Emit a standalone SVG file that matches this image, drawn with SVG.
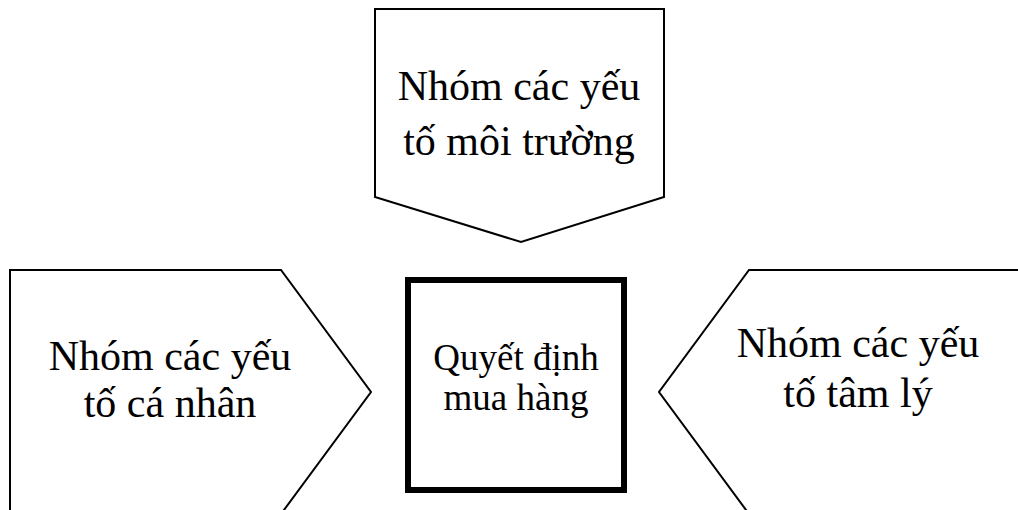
<svg xmlns="http://www.w3.org/2000/svg" width="1018" height="510" viewBox="0 0 1018 510">
<style>
.shape{fill:#fff;stroke:#000;stroke-width:2;stroke-linejoin:miter}
.big{font-family:"Liberation Serif","Times New Roman",serif;font-size:42px;fill:#000;text-anchor:middle}
.mid{font-family:"Liberation Serif","Times New Roman",serif;font-size:37px;fill:#000;text-anchor:middle}
</style>
<rect width="1018" height="510" fill="#fff"/>
<g id="node-top">
<polygon class="shape" points="375,9 664,9 664,197 521,242 375,197"/>
<text class="big" x="519" y="100">Nhóm các yếu</text>
<text class="big" x="519" y="155">tố môi trường</text>
</g>
<g id="node-left">
<polygon class="shape" points="10,270 281,270 371,392 281,514 10,514"/>
<text class="big" x="170" y="370">Nhóm các yếu</text>
<text class="big" x="170" y="417">tố cá nhân</text>
</g>
<g id="node-right">
<polygon class="shape" points="749,270 1030,270 1030,514 749,514 659,392"/>
<text class="big" x="858" y="357">Nhóm các yếu</text>
<text class="big" x="858" y="407">tố tâm lý</text>
</g>
<g id="node-center">
<rect x="408" y="280" width="216" height="210" fill="#fff" stroke="#000" stroke-width="6"/>
<text class="mid" x="516" y="370">Quyết định</text>
<text class="mid" x="516" y="410">mua hàng</text>
</g>
<g id="connectors"></g>
</svg>
